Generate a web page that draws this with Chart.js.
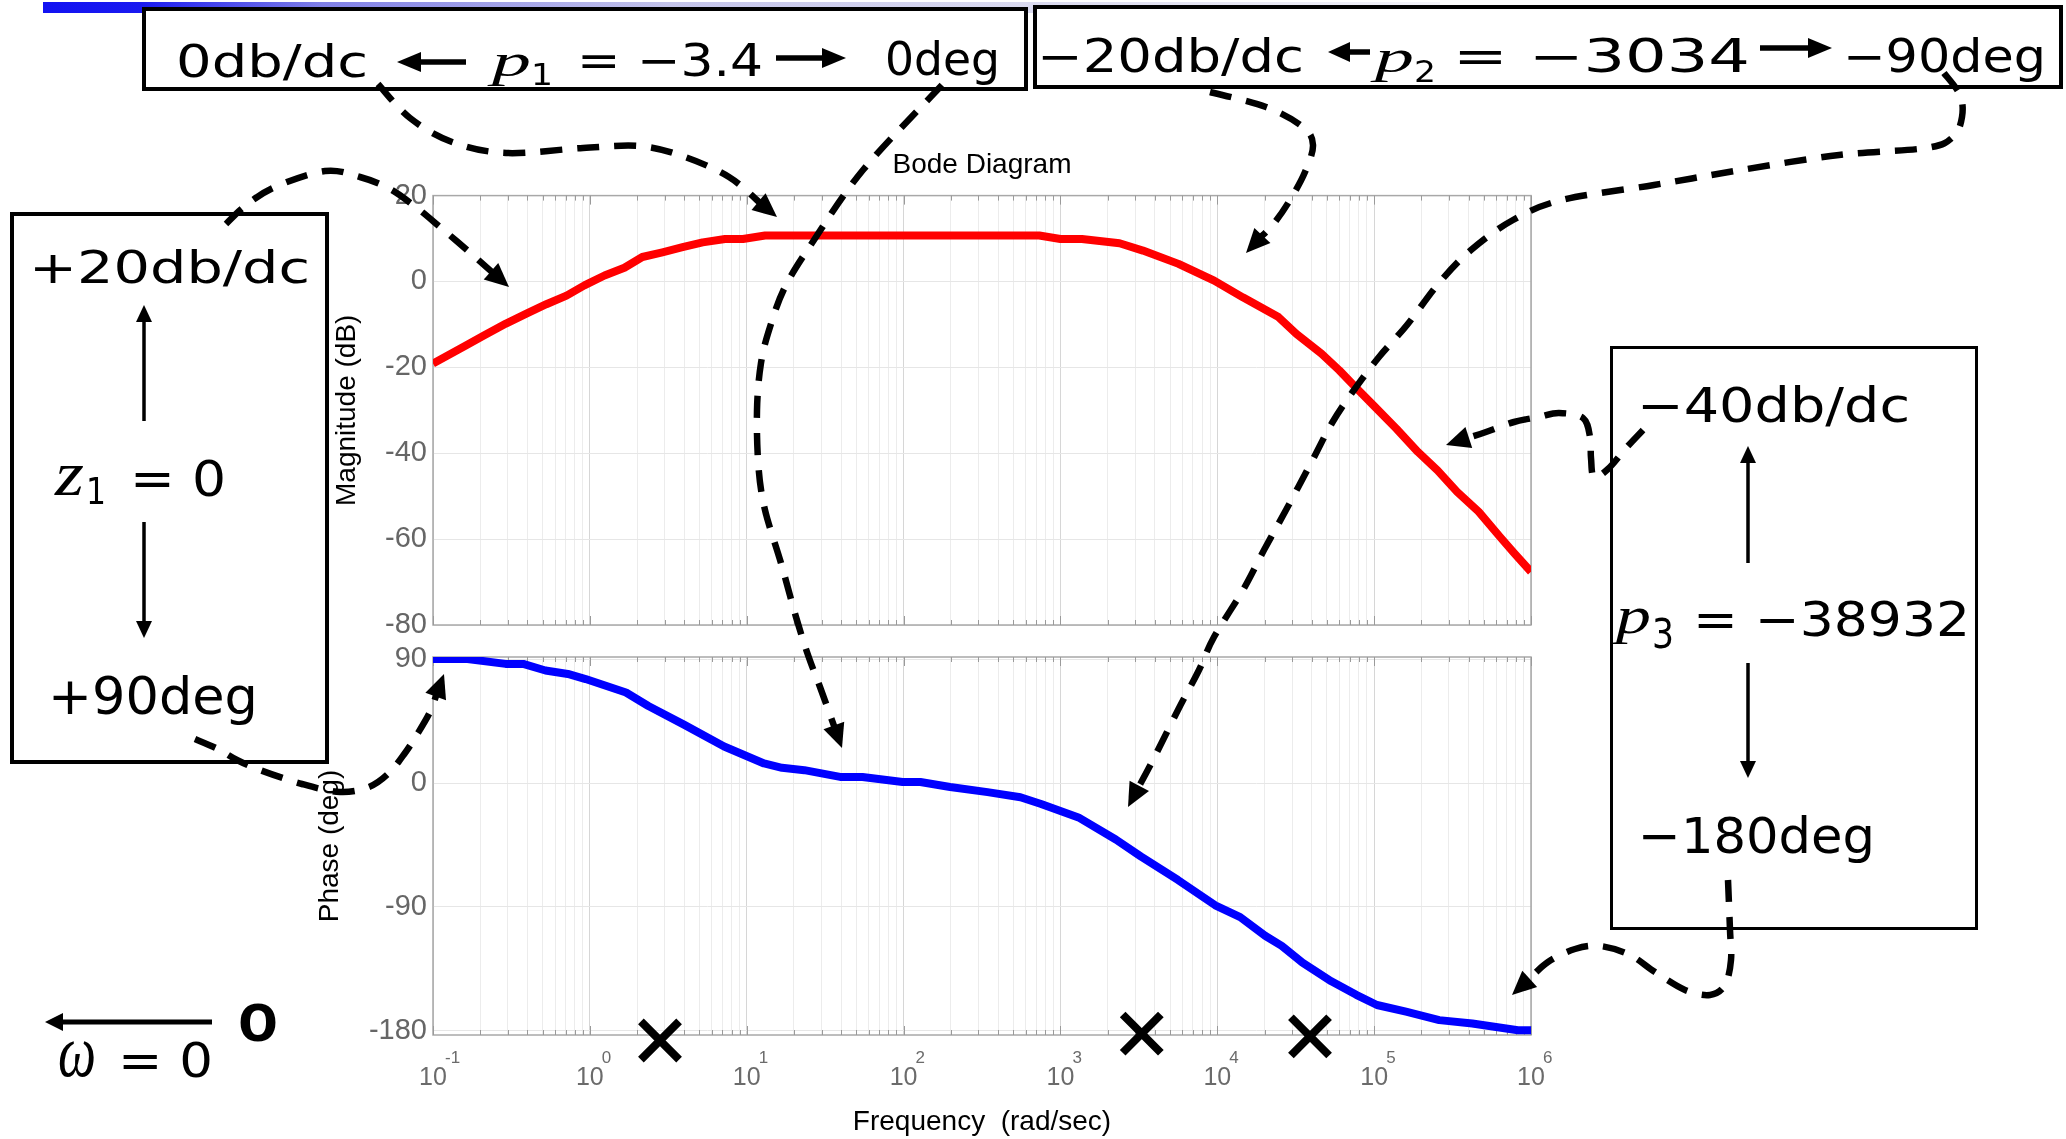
<!DOCTYPE html>
<html><head><meta charset="utf-8">
<script src="https://cdn.jsdelivr.net/npm/chart.js@4.4.1/dist/chart.umd.min.js"></script>
<style>
html,body{margin:0;padding:0;background:#fff;}
#stage{position:relative;width:2066px;height:1139px;overflow:hidden;background:#fff;}
canvas{position:absolute;left:0;top:0;}
.box{position:absolute;border:4px solid #000;box-sizing:border-box;}
.t{position:absolute;white-space:nowrap;line-height:1;transform-origin:0 0;color:#000;z-index:5;}
#ov{position:absolute;left:0;top:0;z-index:10;}
#bar{position:absolute;left:43px;top:2px;width:1397px;height:11px;
 background:linear-gradient(to right,#1212f2 0%,#1a1af0 7%,#8080e6 20%,#c4c4ea 45%,#e2e2f2 80%,#f4f4fa 100%);}
</style></head>
<body>
<div id="stage">
  <div id="bar"></div>
  <div class="box" style="left:142px;top:7px;width:886px;height:84px;background:#fff;"></div>
  <div class="box" style="left:1033px;top:5px;width:1030px;height:84px;background:#fff;"></div>
  <canvas id="mag" width="2066" height="1139"></canvas>
  <canvas id="phase" width="2066" height="1139"></canvas>
  <div class="box" style="left:10px;top:212px;width:319px;height:552px;"></div>
  <div class="box" style="left:1610px;top:346px;width:368px;height:584px;border-width:3px;"></div>
  <svg id="ov" width="2066" height="1139" xmlns="http://www.w3.org/2000/svg"></svg>
</div>
<script>
// ---------------- data ----------------
const magFreq  = [0.1, 0.162, 0.211, 0.292, 0.394, 0.528, 0.71, 0.923, 1.24, 1.66, 2.16, 2.9, 3.9, 5.24, 7.28, 9.46, 13.1,
                  733, 1000, 1371, 2382, 3357, 5662, 9550, 14550, 24550, 31920, 46130, 59980, 77800, 101200, 138700,
                  190100, 253500, 338100, 463400, 635300, 783400, 1000000];
const magDb    = [-19.1, -14.9, -12.6, -9.8, -7.5, -5.3, -3.3, -0.9, 1.4, 3.2, 5.7, 6.8, 8.0, 9.1, 9.9, 9.9, 10.7,
                  10.7, 9.9, 9.9, 8.9, 7.2, 4.1, 0.2, -3.7, -8.3, -12.2, -16.8, -20.7, -25.0, -29.2, -34.3,
                  -39.7, -44.0, -49.0, -53.6, -59.5, -63.3, -67.6];
const phaseFreq = [0.1, 0.166, 0.29, 0.376, 0.521, 0.724, 0.94, 1.7, 2.36, 3.98, 7.18, 12.9, 16.8, 23.3, 39.4, 54.7,
                   98.6, 128, 198, 343, 556, 753, 1303, 2254, 3251, 5610, 9705, 14000, 20180, 25760, 34910, 53330,
                   76910, 104200, 159600, 260000, 422700, 826000, 1000000];
const phaseDeg  = [90, 90, 86.5, 86.5, 81.7, 79.2, 75.5, 65.7, 55.9, 42.4, 26.5, 14.2, 11.0, 9.3, 4.4, 4.4,
                   0.7, 0.7, -2.9, -6.6, -10.3, -15.2, -25.0, -41.0, -53.3, -70.4, -88.8, -97.4, -110.9, -118.3, -130.5, -144.0,
                   -153.8, -161.2, -166.1, -172.2, -174.7, -179.6, -179.6];
const poleFreq    = [2.8, 3300, 39000];
const poleMarkDeg = [-187, -182, -184];
const decadeExps  = [-1, 0, 1, 2, 3, 4, 5, 6];
const magTicks    = [-80, -60, -40, -20, 0, 20];
const phaseTicks  = [-180, -90, 0, 90];

// ---------------- chart helpers ----------------
Chart.defaults.font.family = '"Liberation Sans", Arial, sans-serif';
const isDecade = v => Math.abs(Math.log10(v) - Math.round(Math.log10(v))) < 1e-6;
function logTicks(scale){
  const t = [];
  for (let i = 0; i < decadeExps.length; i++){
    const base = Math.pow(10, decadeExps[i]);
    if (i === decadeExps.length - 1){ t.push({value: base}); break; }
    for (let k = 1; k <= 9; k++) t.push({value: +(k*base).toPrecision(6)});
  }
  scale.ticks = t;
}
const framePlugin = {
  id: 'frame',
  beforeDatasetsDraw(chart){
    const {ctx, chartArea: a} = chart;
    const xs = chart.scales.x;
    ctx.save();
    ctx.strokeStyle = '#a8a8a8'; ctx.lineWidth = 1.5;
    ctx.strokeRect(a.left, a.top, a.right - a.left, a.bottom - a.top);
    ctx.beginPath(); ctx.lineWidth = 1; ctx.strokeStyle = '#9a9a9a';
    xs.ticks.forEach(t => {
      const x = Math.round(xs.getPixelForValue(t.value)) + 0.5;
      const L = isDecade(t.value) ? 9 : 5;
      ctx.moveTo(x, a.top); ctx.lineTo(x, a.top + L);
      ctx.moveTo(x, a.bottom); ctx.lineTo(x, a.bottom - L);
    });
    ctx.stroke();
    ctx.restore();
  }
};
const xLabelPlugin = {
  id: 'xlab',
  afterDraw(chart){
    const s = chart.scales.x, ctx = chart.ctx, b = chart.chartArea.bottom;
    ctx.save(); ctx.fillStyle = '#6b6b6b';
    decadeExps.forEach(e => {
      const x = s.getPixelForValue(Math.pow(10, e));
      ctx.font = '25px "Liberation Sans"'; ctx.textAlign = 'center'; ctx.textBaseline = 'alphabetic';
      ctx.fillText('10', x, b + 50);
      ctx.font = '17px "Liberation Sans"'; ctx.textAlign = 'left';
      ctx.fillText(String(e), x + 12, b + 28);
    });
    ctx.restore();
  }
};
const gridColor = c => (c.tick && isDecade(c.tick.value)) ? '#d6d6d6' : '#ececec';
function xScale(height, title){
  return {
    type: 'logarithmic', min: 0.1, max: 1e6,
    afterBuildTicks: logTicks,
    afterFit: s => { s.height = height; },
    ticks: {display: false, autoSkip: false},
    grid: {color: gridColor, drawTicks: false, lineWidth: 1},
    border: {display: false},
    title: title ? {display: true, text: title, color: '#000', font: {size: 28}, padding: 0} : {display: false}
  };
}
function yScale(min, max, ticks, width, title){
  return {
    type: 'linear', min, max,
    afterBuildTicks: s => { s.ticks = ticks.map(v => ({value: v})); },
    afterFit: s => { s.width = width; },
    ticks: {color: '#666', font: {size: 29}, padding: 6, callback: v => String(v)},
    grid: {color: '#e6e6e6', drawTicks: false},
    border: {display: false},
    title: {display: true, text: title, color: '#000', font: {size: 28}, padding: 0}
  };
}

new Chart(document.getElementById('mag'), {
  type: 'line',
  data: {datasets: [{
    data: magFreq.map((f, i) => ({x: f, y: magDb[i]})),
    borderColor: '#ff0000', borderWidth: 8, pointRadius: 0, tension: 0, borderJoinStyle: 'round'
  }]},
  options: {
    responsive: false, animation: false, events: [], devicePixelRatio: 1,
    layout: {padding: {left: 330, right: 535, top: 148, bottom: 514}},
    plugins: {
      legend: {display: false}, tooltip: {enabled: false},
      title: {display: true, text: 'Bode Diagram', color: '#000', fullSize: false,
              font: {size: 28, weight: 'normal'}, padding: {top: 0, bottom: 14}}
    },
    scales: {x: xScale(0, null), y: yScale(-80, 20, magTicks, 103, 'Magnitude (dB)')}
  },
  plugins: [framePlugin]
});

new Chart(document.getElementById('phase'), {
  type: 'line',
  data: {datasets: [{
    data: phaseFreq.map((f, i) => ({x: f, y: phaseDeg[i]})),
    borderColor: '#0000ff', borderWidth: 8, pointRadius: 0, tension: 0, borderJoinStyle: 'round'
  }, {
    data: poleFreq.map((f, i) => ({x: f, y: poleMarkDeg[i]})),
    showLine: false, pointStyle: 'crossRot', pointRadius: 27, pointBorderWidth: 8,
    pointBorderColor: '#000', pointBackgroundColor: '#000', clip: false
  }]},
  options: {
    responsive: false, animation: false, events: [], devicePixelRatio: 1,
    layout: {padding: {left: 313, right: 535, top: 657, bottom: 0}},
    plugins: {legend: {display: false}, tooltip: {enabled: false}},
    scales: {x: xScale(104, 'Frequency  (rad/sec)'), y: yScale(-183, 91.5, phaseTicks, 120, 'Phase (deg)')}
  },
  plugins: [framePlugin, xLabelPlugin]
});

// ---------------- annotation text ----------------
const stage = document.getElementById('stage');
const SANS = '"DejaVu Sans", sans-serif', SERIF = '"Liberation Serif", serif';
const annText = [
  ['0db/dc', 176, 368, 77, 45, SANS, ''],
  ['p', 492, 531, 77, 46, SERIF, 'i'],
  ['1', 531, 553, 85, 30, SANS, ''],
  ['= \u22123.4', 577, 763, 76, 45, SANS, ''],
  ['0deg', 885, 1000, 75, 47, SANS, ''],
  ['\u221220db/dc', 1037, 1304, 72, 46, SANS, ''],
  ['p', 1375, 1414, 73, 46, SERIF, 'i'],
  ['2', 1414, 1436, 82, 30, SANS, ''],
  ['= \u22123034', 1453, 1750, 72, 46, SANS, ''],
  ['\u221290deg', 1843, 2046, 72, 46, SANS, ''],
  ['+20db/dc', 29, 310, 283, 45, SANS, ''],
  ['z', 55, 84, 496, 64, SERIF, 'i'],
  ['1', 86, 106, 504, 38, SANS, ''],
  ['= 0', 130, 226, 496, 50, SANS, ''],
  ['+90deg', 48, 258, 714, 51, SANS, ''],
  ['\u221240db/dc', 1637, 1910, 422, 48, SANS, ''],
  ['p', 1616, 1651, 634, 52, SERIF, 'i'],
  ['3', 1652, 1674, 648, 40, SANS, ''],
  ['= \u221238932', 1693, 1970, 636, 48, SANS, ''],
  ['\u2212180deg', 1638, 1875, 853, 50, SANS, ''],
  ['\u03c9', 58, 96, 1077, 74, SERIF, 'i'],
  ['= 0', 118, 213, 1077, 48, SANS, ''],
  ['o', 238, 278, 1041, 70, '"Liberation Sans", sans-serif', 'b']
];
annText.forEach(([txt, x0, x1, base, fs, fam, st]) => {
  const d = document.createElement('div');
  d.className = 't'; d.textContent = txt;
  d.style.fontFamily = fam; d.style.fontSize = fs + 'px';
  if (st === 'i') d.style.fontStyle = 'italic';
  if (st === 'b') d.style.fontWeight = 'bold';
  stage.appendChild(d);
  const w = d.getBoundingClientRect().width;
  d.style.left = x0 + 'px';
  d.style.top = (base - 0.846 * fs) + 'px';
  d.style.transform = 'scaleX(' + ((x1 - x0) / w) + ')';
});

// ---------------- arrows ----------------
const svg = document.getElementById('ov');
const NS = 'http://www.w3.org/2000/svg';
function el(tag, attrs){ const e = document.createElementNS(NS, tag); for (const k in attrs) e.setAttribute(k, attrs[k]); svg.appendChild(e); return e; }
function head(tx, ty, ux, uy, hl, hw){
  const bx = tx - ux*hl, by = ty - uy*hl;
  el('polygon', {points: `${tx},${ty} ${bx - uy*hw},${by + ux*hw} ${bx + uy*hw},${by - ux*hw}`, fill: '#000'});
  return [bx, by];
}
function solidArrow(x1, y1, x2, y2, w, hl, hw){
  const dx = x2 - x1, dy = y2 - y1, L = Math.hypot(dx, dy), ux = dx/L, uy = dy/L;
  const [bx, by] = head(x2, y2, ux, uy, hl, hw);
  el('line', {x1, y1, x2: bx + ux, y2: by + uy, stroke: '#000', 'stroke-width': w});
}
function dashedArrow(pts){
  const hl = 24, hw = 11;
  const T = pts[pts.length - 1], P = pts[pts.length - 2];
  let ux = T[0] - P[0], uy = T[1] - P[1]; const L = Math.hypot(ux, uy); ux /= L; uy /= L;
  const [bx, by] = head(T[0], T[1], ux, uy, hl, hw);
  const p = pts.slice(0, -1).concat([[bx + ux*3, by + uy*3]]);
  let d = `M${p[0][0]},${p[0][1]}`;
  for (let i = 0; i < p.length - 1; i++){
    const p0 = p[Math.max(i - 1, 0)], p1 = p[i], p2 = p[i + 1], p3 = p[Math.min(i + 2, p.length - 1)];
    const c1 = [p1[0] + (p2[0] - p0[0])/6, p1[1] + (p2[1] - p0[1])/6];
    const c2 = [p2[0] - (p3[0] - p1[0])/6, p2[1] - (p3[1] - p1[1])/6];
    d += ` C${c1[0]},${c1[1]} ${c2[0]},${c2[1]} ${p2[0]},${p2[1]}`;
  }
  el('path', {d, fill: 'none', stroke: '#000', 'stroke-width': 6.5, 'stroke-dasharray': '22 15'});
}
// solid arrows in boxes
solidArrow(466, 62, 397, 62, 5.5, 24, 10);
solidArrow(776, 58, 846, 58, 5.5, 24, 10);
solidArrow(1370, 52, 1328, 52, 5.5, 22, 10);
solidArrow(1760, 48, 1832, 48, 5.5, 24, 10);
solidArrow(144, 421, 144, 305, 3.5, 17, 8);
solidArrow(144, 522, 144, 638, 3.5, 17, 8);
solidArrow(1748, 563, 1748, 446, 3.5, 17, 8);
solidArrow(1748, 663, 1748, 778, 3.5, 17, 8);
solidArrow(212, 1022, 45, 1022, 5, 18, 9);
// dashed curved arrows
dashedArrow([[378,84],[410,118],[452,142],[506,153],[583,148],[640,146],[685,157],[729,177],[777,217]]);
dashedArrow([[942,85],[863,170],[812,243],[785,287],[770,327],[761,363],[757,410],[758.5,467],[765,510],[781,563],[796,617],[808,655],[820,687],[842,748]]);
dashedArrow([[1210,92],[1266,107],[1303,127],[1313,145],[1305,172],[1290,200],[1275,222],[1246,253]]);
dashedArrow([[1944,73],[1960,95],[1962,117],[1953,137],[1926,148],[1839,155],[1741,170],[1654,185],[1562,200],[1513,220],[1471,250],[1439,283],[1407,325],[1379,357],[1354,390],[1332,423],[1311,463],[1286,510],[1264,550],[1243,590],[1214,637],[1199,670],[1178,710],[1153,760],[1128,807]]);
dashedArrow([[226,224],[245,206],[275,187],[325,171],[360,177],[390,189],[417,208],[440,227],[467,250],[509,287]]);
dashedArrow([[195,739],[218,749],[237,760],[260,770],[302,784],[340,792],[369,787],[389,773],[405,753],[418,733],[430,712],[444,674]]);
dashedArrow([[1643,430],[1627,447],[1608,469],[1594,477],[1591,458],[1590,437],[1583,418],[1559,413],[1539,417],[1514,422],[1486,432],[1446,445]]);
dashedArrow([[1728,880],[1730,930],[1731,960],[1725,985],[1710,995],[1685,990],[1655,972],[1630,955],[1600,946],[1575,949],[1548,962],[1512,995]]);
</script>
</body></html>
